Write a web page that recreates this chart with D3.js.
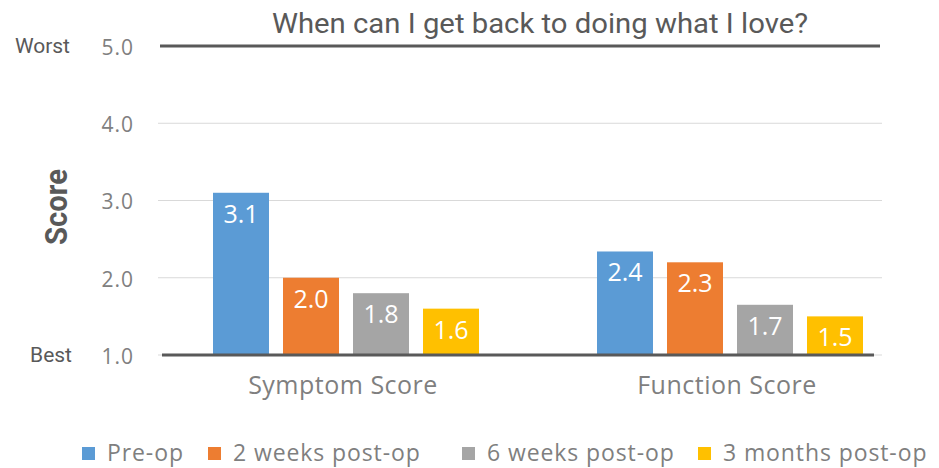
<!DOCTYPE html>
<meta charset="utf-8">
<style>
body { margin: 0; background: #fff; }
svg text { font-family: "Open Sans", Lato, sans-serif; }
.cond { font-family: Roboto, "Liberation Sans Narrow", sans-serif; }
.axis text { fill: #808080; font-size: 21px; letter-spacing: 1px; }
.axis path, .axis line { display: none; }
.grid line { stroke: #d9d9d9; stroke-width: 1; }
</style>
<body>
<script src="https://d3js.org/d3.v7.min.js"></script>
<script>

var categories = ["Symptom Score", "Function Score"];
var series = ["Pre-op", "2 weeks post-op", "6 weeks post-op", "3 months post-op"];
var colors = ["#5b9bd5", "#ed7d31", "#a5a5a5", "#ffc000"];
// bar heights as drawn, and the value labels printed on them
var symptomValues = [3.1, 2.0, 1.8, 1.6];
var functionValues = [2.34, 2.2, 1.65, 1.5];
var symptomLabels = ["3.1", "2.0", "1.8", "1.6"];
var functionLabels = ["2.4", "2.3", "1.7", "1.5"];
var yTicks = [1, 2, 3, 4, 5];

var width = 939, height = 468;

var svg = d3.select("body").append("svg")
    .attr("width", width)
    .attr("height", height);

var y = d3.scaleLinear().domain([1, 5]).range([355, 46]);

var x0 = d3.scaleBand().domain(categories).range([154, 922]);
var x1 = d3.scaleBand().domain(series).range([0, 280])
    .paddingInner(0.2).paddingOuter(0.1);
var groupOffset = (x0.bandwidth() - 280) / 2;

var color = d3.scaleOrdinal().domain(series).range(colors);

// light gridlines
svg.append("g").attr("class", "grid")
  .selectAll("line").data(yTicks.slice(0, 4)).enter()
  .append("line")
    .attr("x1", 158).attr("x2", 882)
    .attr("y1", function(d) { return y(d); })
    .attr("y2", function(d) { return y(d); });

// dark line at the top (5.0)
svg.append("line")
    .attr("x1", 160).attr("x2", 880)
    .attr("y1", y(5)).attr("y2", y(5))
    .attr("stroke", "#595959").attr("stroke-width", 3);

// tick labels
svg.append("g").attr("class", "axis")
    .attr("transform", "translate(158,0)")
    .call(d3.axisLeft(y).tickValues(yTicks).tickSize(0).tickPadding(24)
      .tickFormat(d3.format(".1f")))
  .selectAll("text").attr("dy", "0.4em");

var rows = categories.map(function(c, i) {
  var vals = i === 0 ? symptomValues : functionValues;
  var labs = i === 0 ? symptomLabels : functionLabels;
  return series.map(function(s, j) {
    return {cat: c, key: s, value: vals[j], label: labs[j]};
  });
});

var groups = svg.selectAll(".group").data(rows).enter()
  .append("g").attr("class", "group")
    .attr("transform", function(d) {
      return "translate(" + (x0(d[0].cat) + groupOffset) + ",0)";
    });

groups.selectAll("rect").data(function(d) { return d; }).enter()
  .append("rect")
    .attr("x", function(d) { return x1(d.key); })
    .attr("y", function(d) { return y(d.value); })
    .attr("width", x1.bandwidth())
    .attr("height", function(d) { return y(1) - y(d.value); })
    .attr("fill", function(d) { return color(d.key); });

groups.selectAll(".val").data(function(d) { return d; }).enter()
  .append("text").attr("class", "val")
    .attr("x", function(d) { return x1(d.key) + x1.bandwidth() / 2; })
    .attr("y", function(d) { return y(d.value) + 30; })
    .attr("text-anchor", "middle")
    .attr("fill", "#fff")
    .style("font-size", "25px")
    .text(function(d) { return d.label; });

// baseline
svg.append("line")
    .attr("x1", 162).attr("x2", 874)
    .attr("y1", y(1)).attr("y2", y(1))
    .attr("stroke", "#595959").attr("stroke-width", 3);

// category labels
svg.selectAll(".cat").data(categories).enter()
  .append("text").attr("class", "cat")
    .attr("x", function(d) { return x0(d) + x0.bandwidth() / 2 - 3; })
    .attr("y", 394)
    .attr("text-anchor", "middle")
    .attr("fill", "#7f7f7f")
    .style("font-size", "25px")
    .style("letter-spacing", "0.5px")
    .text(function(d) { return d; });

// title
svg.append("text").attr("class", "cond")
    .attr("x", 540).attr("y", 33)
    .attr("text-anchor", "middle")
    .attr("fill", "#595959")
    .style("font-size", "28px")
    .attr("textLength", 536).attr("lengthAdjust", "spacingAndGlyphs")
    .text("When can I get back to doing what I love?");

svg.append("text").attr("class", "cond")
    .attr("x", 70).attr("y", 53)
    .attr("text-anchor", "end")
    .attr("fill", "#595959")
    .style("font-size", "21px")
    .text("Worst");

svg.append("text").attr("class", "cond")
    .attr("x", 72).attr("y", 362)
    .attr("text-anchor", "end")
    .attr("fill", "#595959")
    .style("font-size", "21px")
    .text("Best");

svg.append("text").attr("class", "cond")
    .attr("transform", "translate(67,207) rotate(-90)")
    .attr("text-anchor", "middle")
    .attr("fill", "#595959")
    .style("font-size", "31px")
    .style("font-weight", "bold")
    .attr("textLength", 76).attr("lengthAdjust", "spacingAndGlyphs")
    .text("Score");

// legend
var legendX = [82, 208, 462, 698];
var legend = svg.selectAll(".leg").data(series).enter()
  .append("g").attr("class", "leg")
    .attr("transform", function(d, i) { return "translate(" + legendX[i] + ",447)"; });

legend.append("rect")
    .attr("width", 13).attr("height", 13)
    .attr("fill", function(d) { return color(d); });

legend.append("text")
    .attr("x", 25).attr("y", 14)
    .attr("fill", "#7f7f7f")
    .style("font-size", "23px")
    .style("letter-spacing", "0.9px")
    .text(function(d) { return d; });

</script>
</body>
